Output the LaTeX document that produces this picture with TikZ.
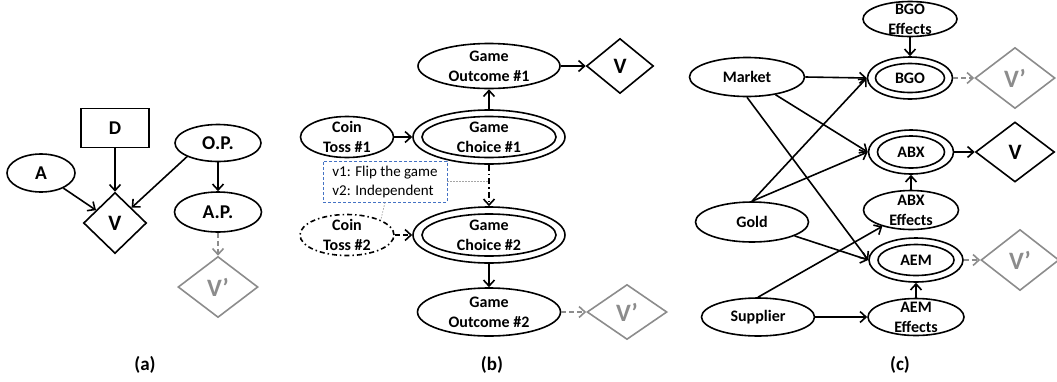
\documentclass[tikz,border=0pt]{standalone}
\usepackage{fontspec}
\setmainfont{Carlito}
\usetikzlibrary{shapes.geometric,arrows.meta}
\definecolor{vgray}{RGB}{140,140,140}
\definecolor{boxblue}{RGB}{68,114,196}
\definecolor{dotgray}{RGB}{165,165,165}
\tikzset{
  ell/.style 2 args={draw, ellipse, line width=1.6pt, inner sep=0pt, minimum width=#1, minimum height=#2},
  dia/.style 2 args={draw, diamond, line width=1.6pt, inner sep=0pt, minimum width=#1, minimum height=#2},
  boxr/.style 2 args={draw, rectangle, line width=1.6pt, inner sep=0pt, minimum width=#1, minimum height=#2},
  ta/.style={font=\bfseries\fontsize{19.5}{23}\selectfont},
  tb/.style={font=\bfseries\fontsize{16}{20}\selectfont, align=center, inner sep=0pt},
  tv/.style={font=\bfseries\fontsize{22}{26}\selectfont},
  tvp/.style={font=\bfseries\fontsize{25}{30}\selectfont, text=vgray},
  gr/.style={draw=vgray},
  caplab/.style={font=\bfseries\fontsize{19}{23}\selectfont},
  arr/.style={line width=1.6pt, -{Straight Barb[length=6pt,width=11pt]}},
  garr/.style={arr, vgray, dash pattern=on 5pt off 3pt},
  darr/.style={arr, dash pattern=on 5pt off 3pt},
  ddarr/.style={arr, dash pattern=on 6pt off 3pt on 1.5pt off 3pt},
  dotl/.style={draw=dotgray, line width=0.7pt, dash pattern=on 1.5pt off 1.5pt},
}
\begin{document}
\begin{tikzpicture}[x=1pt,y=-1pt]
\useasboundingbox (0,0) rectangle (1057,381);
% ---------------- (a)
\node[ell={68pt}{38pt}, ta] (A) at (41,173) {A};
\node[boxr={68pt}{39pt}, ta] (D) at (115,128) {D};
\node[ell={86pt}{37pt}, ta] (op) at (218,143) {O.P.};
\node[dia={63pt}{61pt}, tv] (va) at (115,223) {V};
\node[ell={87pt}{40pt}, ta] (ap) at (218,212) {A.P.};
\node[dia={80pt}{61pt}, gr, tvp] (vpa) at (218,287) {V’};
\node[caplab] (capa) at (145,365) {(a)};
\draw[arr] (A) -- (va);
\draw[arr] (D) -- (va);
\draw[arr] (op.south west) -- (va);
\draw[arr] (op) -- (ap);
\draw[garr] (ap) -- (vpa);
% ---------------- (b)
\node[ell={142pt}{45pt}, label={[tb]center:Game\\Outcome \#1}] (go1) at (489,66) {};
\node[dia={67pt}{55pt}, tv] (vb) at (620,66) {V};
\node[ell={93pt}{41pt}, label={[tb]center:Coin\\Toss \#1}] (ct1) at (347,137) {};
\node[ell={152pt}{54pt}] (gc1) at (489,137) {};
\node[ell={134pt}{41pt}, label={[tb]center:Game\\Choice \#1}] (gc1i) at (489,137) {};
\node[draw=boxblue, line width=0.8pt, dash pattern=on 3pt off 2pt, rectangle, minimum width=124pt, minimum height=41pt, inner sep=0pt, align=left, font=\fontsize{15}{19}\selectfont] (box) at (385,181.5) {v1: Flip the game\\v2: Independent};
\node[ell={94pt}{41pt}, dash pattern=on 5pt off 3pt on 1.5pt off 3pt, label={[tb]center:Coin\\Toss \#2}] (ct2) at (347,235) {};
\node[ell={152pt}{56pt}] (gc2) at (489,235) {};
\node[ell={134pt}{42pt}, label={[tb]center:Game\\Choice \#2}] (gc2i) at (489,235) {};
\node[ell={143pt}{48pt}, label={[tb]center:Game\\Outcome \#2}] (go2) at (489,312) {};
\node[dia={80pt}{55pt}, gr, tvp] (vpb) at (627,312) {V’};
\node[caplab] (capb) at (492,365) {(b)};
\coordinate (mid) at (489,181.5);
\draw[arr] (ct1) -- (gc1);
\draw[arr] (gc1) -- (go1);
\draw[arr] (go1) -- (vb);
\draw[ddarr] (gc1) -- (gc2);
\draw[darr] (ct2) -- (gc2);
\draw[arr] (gc2) -- (go2);
\draw[garr] (go2) -- (vpb);
\draw[dotl] (box.east) -- (mid);
\draw[dotl] (box.south) -- (ct2.north east);
% ---------------- (c)
\node[ell={94pt}{35pt}, label={[tb]center:BGO\\Effects}] (bgoe) at (910,19) {};
\node[ell={85pt}{42pt}] (bgo) at (910,78) {};
\node[ell={69pt}{29pt}, tb] (bgoi) at (910,78) {BGO};
\node[dia={80pt}{61pt}, gr, tvp] (vpc1) at (1015,78) {V’};
\node[ell={115pt}{39pt}, tb] (mkt) at (747,77) {Market};
\node[ell={85pt}{44pt}] (abx) at (911,152) {};
\node[ell={67pt}{32pt}, tb] (abxi) at (911,152) {ABX};
\node[dia={79pt}{60pt}, tv] (vc) at (1015,152) {V};
\node[ell={95pt}{39pt}, label={[tb]center:ABX\\Effects}] (abxe) at (911,210) {};
\node[ell={113pt}{40pt}, tb] (gold) at (752,222) {Gold};
\node[ell={94pt}{44pt}] (aem) at (916,260) {};
\node[ell={76pt}{31pt}, tb] (aemi) at (916,260) {AEM};
\node[dia={78pt}{61pt}, gr, tvp] (vpc2) at (1020,260) {V’};
\node[ell={113pt}{38pt}, tb] (sup) at (758,317) {Supplier};
\node[ell={96pt}{37pt}, label={[tb]center:AEM\\Effects}] (aeme) at (916,317) {};
\node[caplab] (capc) at (900,365) {(c)};
\draw[arr] (bgoe) -- (bgo);
\draw[arr] (mkt.east) -- (bgo.west);
\draw[arr] (mkt) -- (abx.west);
\draw[arr] (mkt.south) -- (aem.west);
\draw[arr] (gold.north) -- (bgo.west);
\draw[arr] (gold.north) -- (abx.west);
\draw[arr] (gold) -- (aem.west);
\draw[arr] (sup.north) -- (abxe);
\draw[arr] (sup) -- (aeme);
\draw[arr] (abxe) -- (abx);
\draw[arr] (aeme) -- (aem);
\draw[arr] (abx) -- (vc);
\draw[garr] (bgo) -- (vpc1);
\draw[garr] (aem) -- (vpc2);
\end{tikzpicture}
\end{document}
